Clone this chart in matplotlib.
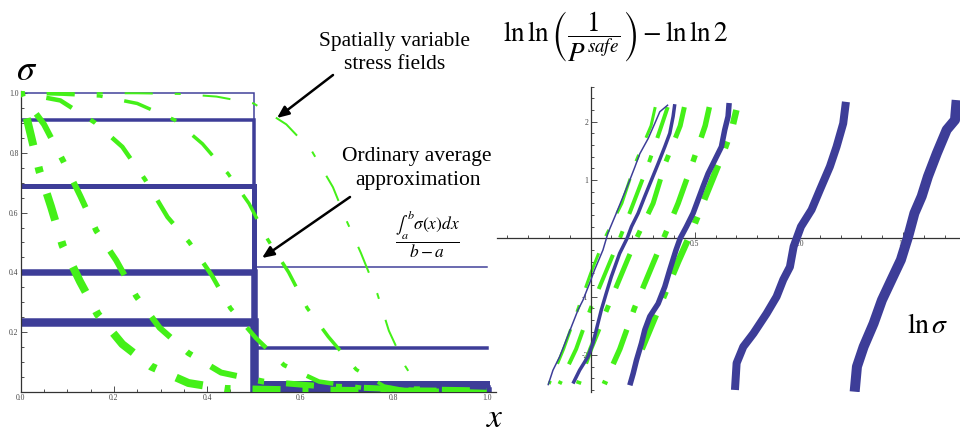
import matplotlib
matplotlib.use('Agg')

import numpy as np
import matplotlib.pyplot as plt
from matplotlib.ticker import FixedLocator

plt.rcParams['mathtext.fontset'] = 'stix'
plt.rcParams['lines.scale_dashes'] = False

BLUE = '#3d3d98'
GREEN = '#44f018'
PX = 0.72  # points per pixel at dpi 100

# ---- left panel: ordinary average (step) profiles ----
x_range = (0.0, 1.0)
step_at = 0.5
step_left = [1.0, 0.91, 0.69, 0.40, 0.235]
step_right = [0.418, 0.147, 0.031, 0.012, 0.004]
step_width = [1.5, 3.5, 5, 6.5, 8.5]

# ---- left panel: spatially variable stress fields ----
field1_x = [0.0, 0.02, 0.04, 0.065, 0.09, 0.127, 0.165, 0.218, 0.28, 0.36, 0.44, 0.6, 1.0]
field1_y = [1.0, 0.87, 0.74, 0.62, 0.49, 0.37, 0.26, 0.16, 0.085, 0.03, 0.01, 0.005, 0.0]
field2_x = [0.0, 0.05, 0.092, 0.128, 0.162, 0.205, 0.248, 0.298, 0.36, 0.43, 0.52, 0.64, 0.8, 1.0]
field2_y = [1.0, 0.895, 0.77, 0.655, 0.54, 0.44, 0.32, 0.215, 0.13, 0.065, 0.035, 0.02, 0.01, 0.005]
field3_x = [0.0, 0.085, 0.16, 0.218, 0.267, 0.315, 0.362, 0.41, 0.45, 0.505, 0.565, 0.64, 0.75, 1.0]
field3_y = [1.0, 0.975, 0.9, 0.82, 0.71, 0.585, 0.5, 0.39, 0.28, 0.18, 0.09, 0.035, 0.01, 0.0]
field4_x = [0.0, 0.09, 0.17, 0.25, 0.33, 0.39, 0.445, 0.49, 0.53, 0.575, 0.615, 0.66, 0.72, 0.78, 0.85]
field4_y = [1.0, 0.996, 0.99, 0.965, 0.91, 0.83, 0.73, 0.63, 0.51, 0.40, 0.28, 0.185, 0.075, 0.02, 0.0]
field5_x = [0.0, 0.25, 0.34, 0.42, 0.5, 0.57, 0.625, 0.67, 0.70, 0.73, 0.765, 0.79, 0.825, 0.86]
field5_y = [1.0, 0.999, 0.997, 0.988, 0.965, 0.895, 0.805, 0.685, 0.57, 0.465, 0.33, 0.205, 0.087, 0.0]
field_width = [8, 6, 4.5, 3.5, 2]

# ---- right panel: ln ln(1/P) - ln ln 2 versus ln sigma ----
avg1_x = [-0.205, -0.181, -0.149, -0.117, -0.093, -0.061, -0.037, -0.005, 0.019, 0.059, 0.083,
          0.123, 0.155, 0.188, 0.212, 0.236, 0.276, 0.308, 0.332, 0.372]
avg1_y = [-2.52, -2.26, -2.03, -1.74, -1.52, -1.23, -1.06, -0.77, -0.54, -0.2, 0.09,
          0.43, 0.71, 1.0, 1.22, 1.45, 1.71, 1.97, 2.17, 2.29]
avg2_x = [-0.085, -0.053, -0.013, 0.011, 0.027, 0.051, 0.075, 0.099, 0.139, 0.175, 0.196,
          0.228, 0.26, 0.292, 0.324, 0.356, 0.38, 0.396, 0.404]
avg2_y = [-2.49, -2.26, -2.03, -1.80, -1.57, -1.23, -0.94, -0.66, -0.26, 0.0, 0.2,
          0.43, 0.72, 1.0, 1.28, 1.57, 1.80, 2.09, 2.30]
avg3_x = [0.188, 0.204, 0.22, 0.244, 0.26, 0.284, 0.324, 0.356, 0.38, 0.41, 0.43,
          0.46, 0.492, 0.516, 0.54, 0.564, 0.596, 0.628, 0.644, 0.66, 0.665]
avg3_y = [-2.52, -2.32, -2.09, -1.80, -1.57, -1.34, -1.12, -0.83, -0.54, -0.2, 0.0,
          0.2, 0.43, 0.66, 0.89, 1.11, 1.34, 1.57, 1.86, 2.09, 2.32]
avg4_x = [0.693, 0.701, 0.733, 0.782, 0.845, 0.893, 0.925, 0.957, 0.975, 1.01, 1.061,
          1.101, 1.149, 1.181, 1.213, 1.226]
avg4_y = [-2.6, -2.14, -1.86, -1.63, -1.29, -1.0, -0.71, -0.49, -0.14, 0.2, 0.49,
          0.83, 1.23, 1.57, 1.97, 2.34]
avg5_x = [1.268, 1.279, 1.311, 1.359, 1.399, 1.445, 1.49, 1.525, 1.555, 1.59, 1.62,
          1.663, 1.71, 1.75, 1.758]
avg5_y = [-2.63, -2.2, -1.86, -1.46, -1.06, -0.71, -0.37, 0.03, 0.43, 0.72, 1.06,
          1.46, 1.86, 2.03, 2.37]
avg_width = [1.5, 3.5, 5.5, 8, 10]

var1_x = [-0.2, -0.13, -0.06, 0.0, 0.067, 0.15, 0.215, 0.29, 0.31]
var1_y = [-2.5, -1.9, -1.2, -0.6, 0.0, 0.6, 1.3, 1.93, 2.25]
var2_x = [-0.15, -0.07, 0.0, 0.07, 0.14, 0.205, 0.28, 0.34, 0.37]
var2_y = [-2.5, -1.9, -1.2, -0.6, 0.0, 0.6, 1.3, 1.93, 2.25]
var3_x = [-0.06, 0.0, 0.08, 0.15, 0.22, 0.30, 0.36, 0.43, 0.45]
var3_y = [-2.5, -1.9, -1.2, -0.6, 0.0, 0.6, 1.3, 1.93, 2.25]
var4_x = [0.065, 0.14, 0.21, 0.28, 0.35, 0.42, 0.49, 0.55, 0.57]
var4_y = [-2.5, -1.9, -1.2, -0.6, 0.0, 0.6, 1.3, 1.93, 2.25]
var5_x = [0.245, 0.28, 0.35, 0.42, 0.485, 0.555, 0.635, 0.68, 0.70]
var5_y = [-1.9, -1.6, -1.0, -0.4, 0.12, 0.75, 1.45, 1.9, 2.2]
var_width = [3, 4, 5, 5.5, 6.5]
var_offset = [59, 59, 59, 59, 0]

TICK_FONT = dict(family='Liberation Serif', size=5.5, color='#444444')


def style_ticks(ax):
    ax.tick_params(which='both', direction='in', width=0.6, color='#333333', pad=1.5)
    ax.tick_params(which='major', length=4.5)
    ax.tick_params(which='minor', length=2.5)
    for lab in ax.get_xticklabels() + ax.get_yticklabels():
        lab.set_fontfamily(TICK_FONT['family'])
        lab.set_fontsize(TICK_FONT['size'])
        lab.set_color(TICK_FONT['color'])
    for side in ['top', 'right']:
        ax.spines[side].set_visible(False)
    for side in ['left', 'bottom']:
        ax.spines[side].set_linewidth(0.9)
        ax.spines[side].set_color('#333333')


fig = plt.figure(figsize=(9.6, 4.33), dpi=100)

# ------------------------------------------------------------------ left panel
ax1 = fig.add_axes([0.0216, 0.0947, 0.4951, 0.694])
for lv, rv, w in zip(step_left, step_right, step_width):
    ax1.plot([x_range[0], step_at, step_at, x_range[1]], [lv, lv, rv, rv],
             color=BLUE, lw=w * PX, solid_joinstyle='miter', zorder=2)

# dash - gap - dot - gap, in pixels
left_pattern = [28, 22, 6, 22]
fields = [(field1_x, field1_y), (field2_x, field2_y), (field3_x, field3_y),
          (field4_x, field4_y), (field5_x, field5_y)]
for (fx, fy), w in zip(fields, field_width):
    ln, = ax1.plot(fx, fy, color=GREEN, lw=w * PX, dash_capstyle='butt', zorder=3)
    ln.set_linestyle((52 * PX, [p * PX for p in left_pattern]))

ax1.set_xlim(0, 1.02)
ax1.set_ylim(0, 1.005)
ax1.set_xticks([0.0, 0.2, 0.4, 0.6, 0.8, 1.0])
ax1.set_xticklabels(['0.0', '0.2', '0.4', '0.6', '0.8', '1.0'])
ax1.set_yticks([0.2, 0.4, 0.6, 0.8, 1.0])
ax1.set_yticklabels(['0.2', '0.4', '0.6', '0.8', '1.0'])
ax1.xaxis.set_minor_locator(FixedLocator(np.arange(0.05, 1.0, 0.05)))
ax1.yaxis.set_minor_locator(FixedLocator(np.arange(0.05, 1.0, 0.05)))
style_ticks(ax1)

# ----------------------------------------------------------------- right panel
ax2 = fig.add_axes([0.5177, 0.0954, 0.4823, 0.7044])
right_pattern = [37, 18.5, 7, 18.5]
vars_ = [(var1_x, var1_y), (var2_x, var2_y), (var3_x, var3_y),
         (var4_x, var4_y), (var5_x, var5_y)]
for (vx, vy), w, off in zip(vars_, var_width, var_offset):
    ln, = ax2.plot(vx, vy, color=GREEN, lw=w * PX, dash_capstyle='butt', zorder=2)
    ln.set_linestyle((off * PX, [p * PX for p in right_pattern]))

avgs = [(avg1_x, avg1_y), (avg2_x, avg2_y), (avg3_x, avg3_y),
        (avg4_x, avg4_y), (avg5_x, avg5_y)]
for (ax_, ay), w in zip(avgs, avg_width):
    ax2.plot(ax_, ay, color=BLUE, lw=w * PX, solid_capstyle='butt', zorder=3)

ax2.set_xlim(-0.45, 1.774)
ax2.set_ylim(-2.63, 2.6)
ax2.spines['left'].set_position(('data', 0))
ax2.spines['bottom'].set_position(('data', 0))
ax2.set_xticks([0.5, 1.0, 1.5])
ax2.set_xticklabels(['0.5', '1.0', '1.5'])
ax2.set_yticks([-2, -1, 1, 2])
ax2.set_yticklabels(['-2', '-1', '1', '2'])
ax2.xaxis.set_minor_locator(FixedLocator(np.arange(-0.4, 1.75, 0.1)))
ax2.yaxis.set_minor_locator(FixedLocator(np.arange(-2.6, 2.61, 0.2)))
style_ticks(ax2)
ax2.patch.set_alpha(0)

# ---------------------------------------------------------------- annotations
W, H = 960.0, 433.0


def put(px, py, s, **kw):
    fig.text(px / W, 1 - py / H, s, **kw)


serif = dict(family='Liberation Serif', size=15.5, color='black', ha='center', va='baseline')
put(394.5, 46, 'Spatially variable', **serif)
put(394.5, 69, 'stress fields', **serif)
put(417, 161, 'Ordinary average', **serif)
put(418, 185, 'approximation', **serif)

arrow = dict(arrowstyle='-|>,head_length=0.7,head_width=0.3', color='black', lw=1.8,
             shrinkA=0, shrinkB=0)
ax1.annotate('', xy=(277, H - 118), xytext=(333, H - 75), xycoords='figure pixels',
             textcoords='figure pixels', arrowprops=arrow, annotation_clip=False)
ax1.annotate('', xy=(262, H - 258), xytext=(350, H - 197), xycoords='figure pixels',
             textcoords='figure pixels', arrowprops=arrow, annotation_clip=False)

put(427, 234, r'$\dfrac{\int_a^b\sigma(x)dx}{b-a}$', size=12.5, ha='center', va='center')
put(26.5, 80, r'$\sigma$', size=26, ha='center', va='baseline')
put(495, 427, r'$x$', size=24, ha='center', va='baseline')
put(503, 42, r'$\ln\ln\left(\dfrac{1}{P^{safe}}\right)-\ln\ln2$', size=19.5, ha='left', va='baseline')
put(907, 333, r'$\ln\sigma$', size=20, ha='left', va='baseline')

fig.savefig('out.png', dpi=100)
